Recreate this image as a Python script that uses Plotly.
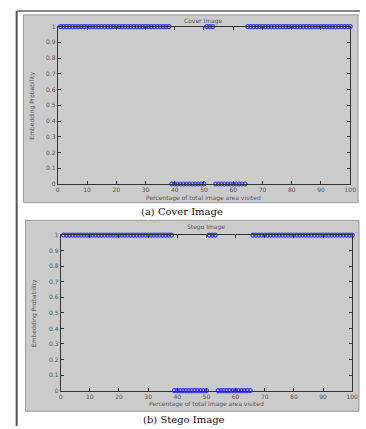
import plotly.graph_objects as go

# Percentage of total image area visited (x) and embedding probability (y)
visited = list(range(1, 101))

cover_prob = ([1] * 38) + ([0] * 12) + ([1] * 3) + ([0] * 11) + ([1] * 36)
stego_prob = ([1] * 38) + ([0] * 12) + ([1] * 3) + ([0] * 12) + ([1] * 35)

x_ticks = [0, 10, 20, 30, 40, 50, 60, 70, 80, 90, 100]
y_ticks = [0, 0.1, 0.2, 0.3, 0.4, 0.5, 0.6, 0.7, 0.8, 0.9, 1]
y_tick_text = ["0", "0.1", "0.2", "0.3", "0.4", "0.5", "0.6", "0.7", "0.8", "0.9", "1"]

W, H = 366, 429


def fx(px):
    return px / W


def fy(py):
    return 1 - py / H


fig = go.Figure()

marker = dict(symbol="circle-open", size=4, color="#3b3bff", line=dict(width=1.2, color="#3b3bff"))

fig.add_trace(go.Scatter(x=visited, y=cover_prob, mode="markers", marker=marker,
                         xaxis="x", yaxis="y", cliponaxis=False, showlegend=False))
fig.add_trace(go.Scatter(x=visited, y=stego_prob, mode="markers", marker=marker,
                         xaxis="x2", yaxis="y2", cliponaxis=False, showlegend=False))

tick_font = dict(family="DejaVu Sans", size=6, color="#555")
axis_common = dict(showline=True, linecolor="#333", linewidth=1, mirror="ticks",
                   ticks="inside", ticklen=3, tickcolor="#333", showgrid=False,
                   zeroline=False, tickfont=tick_font)

fig.update_layout(
    width=W, height=H,
    margin=dict(l=0, r=0, t=0, b=0),
    paper_bgcolor="white",
    plot_bgcolor="white",
    xaxis=dict(domain=[fx(57), fx(356)], anchor="y", range=[0, 100],
               tickvals=x_ticks, **axis_common),
    yaxis=dict(domain=[fy(183), fy(23)], anchor="x", range=[0, 1],
               tickvals=y_ticks, ticktext=y_tick_text, **axis_common),
    xaxis2=dict(domain=[fx(60), fx(358)], anchor="y2", range=[0, 100],
                tickvals=x_ticks, **axis_common),
    yaxis2=dict(domain=[fy(393), fy(235)], anchor="x2", range=[0, 1],
                tickvals=y_ticks, ticktext=y_tick_text, **axis_common),
)

# Page frame lines and grey figure panels
shapes = [
    dict(type="line", xref="paper", yref="paper", x0=fx(15), x1=fx(15), y0=fy(7), y1=0,
         line=dict(color="#555", width=2)),
    dict(type="line", xref="paper", yref="paper", x0=fx(15), x1=1, y0=fy(7), y1=fy(7),
         line=dict(color="#888", width=2)),
    dict(type="rect", xref="paper", yref="paper", x0=fx(22), x1=fx(364), y0=fy(202), y1=fy(11),
         fillcolor="#cbcbcb", line=dict(color="#9a9a9a", width=1), layer="below"),
    dict(type="rect", xref="paper", yref="paper", x0=fx(24), x1=fx(365), y0=fy(414), y1=fy(220),
         fillcolor="#cbcbcb", line=dict(color="#9a9a9a", width=1), layer="below"),
]
fig.update_layout(shapes=shapes)

label_font = dict(family="DejaVu Sans", size=6, color="#555")
caption_font = dict(family="DejaVu Serif", size=10, color="#111")

annotations = [
    dict(text="Cover Image", x=fx(206), y=fy(17), xref="paper", yref="paper",
         showarrow=False, font=label_font, xanchor="center", yanchor="middle"),
    dict(text="Percentage of total image area visited", x=fx(206), y=fy(197), xref="paper",
         yref="paper", showarrow=False, font=label_font, xanchor="center", yanchor="middle"),
    dict(text="Embedding Probability", x=fx(31), y=fy(103), xref="paper", yref="paper",
         showarrow=False, font=label_font, textangle=-90, xanchor="center", yanchor="middle"),
    dict(text="(a) Cover Image", x=fx(184), y=fy(211), xref="paper", yref="paper",
         showarrow=False, font=caption_font, xanchor="center", yanchor="middle"),
    dict(text="Stego Image", x=fx(209), y=fy(227), xref="paper", yref="paper",
         showarrow=False, font=label_font, xanchor="center", yanchor="middle"),
    dict(text="Percentage of total image area visited", x=fx(209), y=fy(407), xref="paper",
         yref="paper", showarrow=False, font=label_font, xanchor="center", yanchor="middle"),
    dict(text="Embedding Probability", x=fx(33), y=fy(314), xref="paper", yref="paper",
         showarrow=False, font=label_font, textangle=-90, xanchor="center", yanchor="middle"),
    dict(text="(b) Stego Image", x=fx(186), y=fy(422), xref="paper", yref="paper",
         showarrow=False, font=caption_font, xanchor="center", yanchor="middle"),
]
fig.update_layout(annotations=annotations)

fig.write_html("out.html")
